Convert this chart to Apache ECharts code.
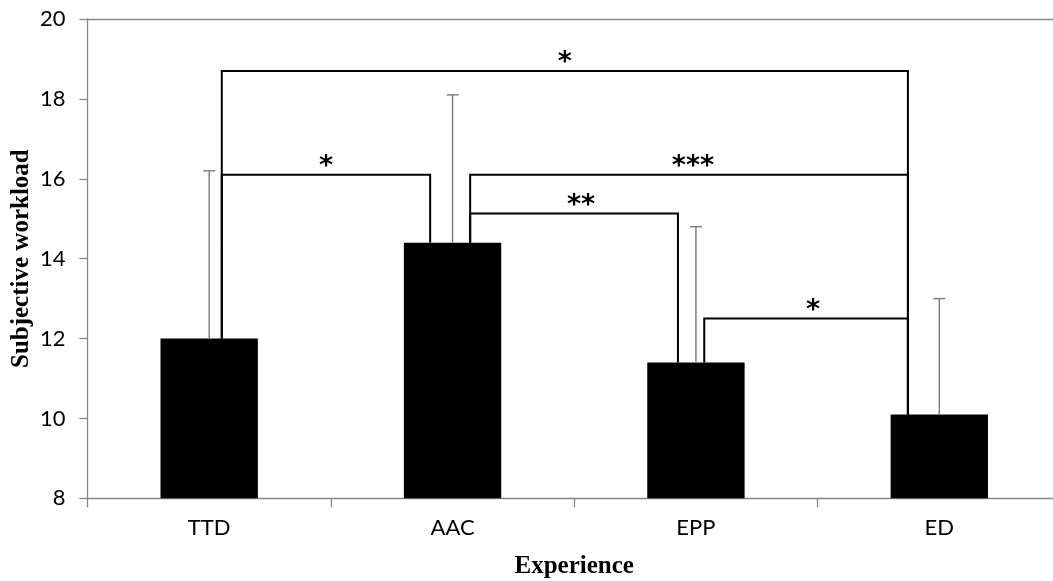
<!DOCTYPE html>
<html>
<head>
<meta charset="utf-8">
<script src="https://cdn.jsdelivr.net/npm/echarts@6/dist/echarts.min.js"></script>
<style>
html,body{margin:0;padding:0;background:#fff;}
#chart{width:1053px;height:581px;}
</style>
</head>
<body>
<div id="chart"></div>
<script>
// ---- data ----
var categories = ['TTD', 'AAC', 'EPP', 'ED'];
var means = [12.0, 14.4, 11.4, 10.1];
var upperErr = [16.2, 18.1, 14.8, 13.0];   // mean + SD (upper whisker end)
var yTicks = [8, 10, 12, 14, 16, 18, 20];
var sigFrom = [0, 0, 1, 1, 2];
var sigTo = [3, 1, 3, 2, 3];
var sigHeight = [18.7, 16.1, 16.1, 15.13, 12.5];
var sigLabel = ['*', '*', '***', '**', '*'];

// ---- styling (pixel offsets of bracket legs from category centres) ----
var legOffsetL = [12.6, 12.6, 17.6, 17.6, 8.3];
var legOffsetR = [-31.4, -22.4, -31.4, -18, -31.4];
var labelShift = [0, 0, 4, 7, 7];

var errData = categories.map(function (c, i) { return [i, upperErr[i], means[i]]; });
var sigData = sigFrom.map(function (f, k) { return [f, sigHeight[k], sigTo[k], k]; });

var chart = echarts.init(document.getElementById('chart'), null, {renderer: 'canvas'});
var axisGray = '#868686';
var option = {
  animation: false,
  backgroundColor: '#ffffff',
  grid: {left: 87.5, top: 19, right: -8, bottom: 82.7, containLabel: false, outerBoundsMode: 'none'},
  xAxis: [{
    type: 'category',
    data: categories,
    boundaryGap: true,
    name: 'Experience',
    nameLocation: 'middle',
    nameGap: 56,
    nameMoveOverlap: false,
    nameTextStyle: {fontFamily: 'Liberation Serif', fontWeight: 'bold', fontSize: 25, color: '#000'},
    axisLine: {show: true, lineStyle: {color: axisGray, width: 1.3}},
    axisTick: {show: true, length: 9, inside: false, alignWithLabel: false, lineStyle: {color: axisGray, width: 1.3}},
    axisLabel: {margin: 19, fontFamily: 'Lato', fontSize: 22, color: '#000'},
    splitLine: {show: false}
  }, {
    type: 'category',
    data: categories,
    position: 'top',
    axisLine: {show: true, lineStyle: {color: axisGray, width: 1.3}},
    axisTick: {show: false},
    axisLabel: {show: false},
    splitLine: {show: false}
  }],
  yAxis: {
    type: 'value',
    min: yTicks[0],
    max: yTicks[yTicks.length - 1],
    interval: 2,
    name: 'Subjective workload',
    nameLocation: 'middle',
    nameGap: 53,
    nameMoveOverlap: false,
    nameRotate: 90,
    nameTextStyle: {fontFamily: 'Liberation Serif', fontWeight: 'bold', fontSize: 25, color: '#000'},
    axisLine: {show: true, lineStyle: {color: axisGray, width: 1.3}},
    axisTick: {show: true, length: 8, inside: false, lineStyle: {color: axisGray, width: 1.3}},
    axisLabel: {margin: 22, fontFamily: 'Lato', fontSize: 22, color: '#000'},
    splitLine: {show: false}
  },
  series: [{
    type: 'bar',
    data: means,
    barWidth: '40%',
    itemStyle: {color: '#000'},
    z: 2
  }, {
    type: 'custom',
    data: errData,
    encode: {x: 0, y: 1},
    z: 3,
    renderItem: function (params, api) {
      var i = api.value(0);
      var top = api.coord([i, api.value(1)]);
      var base = api.coord([i, api.value(2)]);
      var cap = 6;
      var st = {stroke: '#7a7a7a', lineWidth: 1.4};
      return {type: 'group', children: [
        {type: 'line', shape: {x1: top[0], y1: base[1], x2: top[0], y2: top[1]}, style: st},
        {type: 'line', shape: {x1: top[0] - cap, y1: top[1], x2: top[0] + cap, y2: top[1]}, style: st}
      ]};
    }
  }, {
    type: 'custom',
    data: sigData,
    encode: {x: 0, y: 1},
    z: 4,
    renderItem: function (params, api) {
      var f = api.value(0), h = api.value(1), t = api.value(2), k = api.value(3);
      var a = api.coord([f, means[f]]);
      var b = api.coord([t, means[t]]);
      var yTop = api.coord([f, h])[1];
      var xL = a[0] + legOffsetL[k];
      var xR = b[0] + legOffsetR[k];
      return {type: 'group', children: [
        {type: 'polyline', shape: {points: [[xL, a[1]], [xL, yTop], [xR, yTop], [xR, b[1]]]},
         style: {stroke: '#000', lineWidth: 2, fill: null}},
        {type: 'text', x: (xL + xR) / 2 + labelShift[k], y: yTop - 8,
         style: {text: sigLabel[k], fontFamily: 'DejaVu Sans', fontWeight: 'bold', fontSize: 27,
                 fill: '#000', align: 'center', verticalAlign: 'middle'}}
      ]};
    }
  }]
};
chart.setOption(option);
</script>
</body>
</html>
